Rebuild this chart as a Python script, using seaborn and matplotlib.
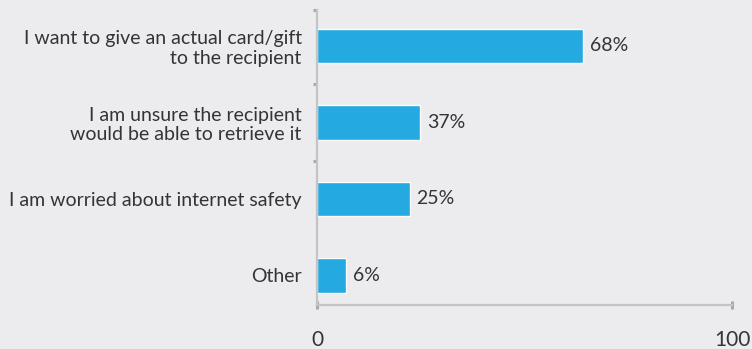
import matplotlib
matplotlib.use("Agg")
import matplotlib.pyplot as plt
import seaborn as sns
import pandas as pd

categories = [
    "I want to give an actual card/gift\nto the recipient",
    "I am unsure the recipient\nwould be able to retrieve it",
    "I am worried about internet safety",
    "Other",
]
# bar lengths as drawn against the 0-100 axis
bar_lengths = [64.1, 24.8, 22.3, 6.9]
# printed value labels
label_values = [68, 37, 25, 6]
x_ticks = [0, 100]

BG = "#ececee"
BAR = "#24a9e1"
TXT = "#343436"
AX = "#c4c4c6"
TICK = "#a8a8aa"

sns.set_theme(style="white")
plt.rcParams["font.family"] = ["Lato", "DejaVu Sans"]

df = pd.DataFrame({"category": categories, "value": bar_lengths})

fig = plt.figure(figsize=(7.52, 3.49), dpi=100, facecolor=BG)
ax = fig.add_axes([317 / 752, (349 - 305) / 349, (732 - 317) / 752, (305 - 10) / 349])
ax.set_facecolor(BG)

sns.barplot(data=df, x="value", y="category", orient="h", color=BAR,
            width=0.45, saturation=1, ax=ax)

ax.set_xlim(0, 100)
ax.set_ylim(3.386, -0.47)
ax.set_xlabel("")
ax.set_ylabel("")

for i, (L, v) in enumerate(zip(bar_lengths, label_values)):
    ax.text(L + 1.7, i, f"{v}%", va="center", ha="left", fontsize=14, color=TXT)

for s in ["top", "right"]:
    ax.spines[s].set_visible(False)
for s in ["left", "bottom"]:
    ax.spines[s].set_color(AX)
    ax.spines[s].set_linewidth(1.6)

ax.set_xticks(x_ticks)
ax.set_xticklabels([str(t) for t in x_ticks])
ax.tick_params(axis="x", direction="inout", length=6, width=2.2, color=TICK,
               pad=15, labelsize=15, labelcolor=TXT, bottom=True)

ax.set_yticks(range(len(categories)))
ax.set_yticklabels(categories, ha="right", fontsize=14, color=TXT, linespacing=1.15)
ax.tick_params(axis="y", length=0, pad=11)
ax.set_yticks([-0.47, 0.5, 1.5], minor=True)
ax.tick_params(axis="y", which="minor", direction="out", length=3, width=2.2,
               color=TICK, left=True)

fig.savefig("out.png", dpi=100, facecolor=BG)
